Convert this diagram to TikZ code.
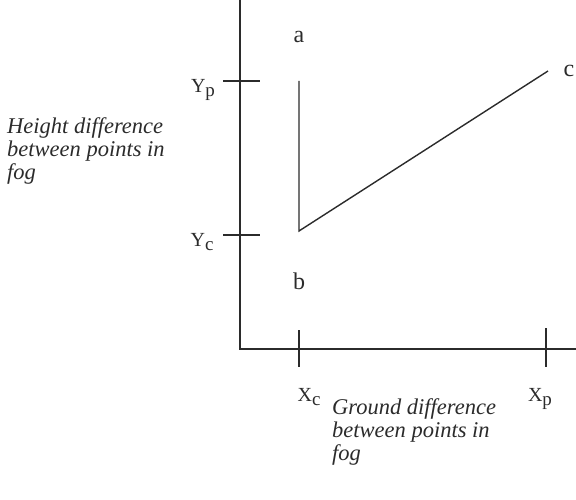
\documentclass[tikz,border=0pt]{standalone}
\usepackage{fontspec}
\setmainfont{Liberation Serif}
\usetikzlibrary{calc}
\definecolor{cInk}{HTML}{2B2B2B}
\tikzset{
    axis/.style  ={line width=1.6pt, cInk},
    tick/.style  ={line width=1.4pt, cInk},
    path/.style  ={line width=1.4pt, cInk},
    lbl/.style   ={font=\fontsize{24}{26}\selectfont, text=cInk, inner sep=0pt},
    axlbl/.style ={font=\fontsize{20}{22}\selectfont, text=cInk, inner sep=0pt,
                   anchor=base},
    desc/.style  ={font=\fontsize{22.5}{23}\selectfont\itshape, text=cInk,
                   align=left, inner sep=0pt, anchor=north west},
}
\newcommand{\subl}[1]{\raisebox{-3.5pt}{\fontsize{19}{19}\selectfont #1}}

\begin{document}
\begin{tikzpicture}[x=1pt, y=1pt]
\useasboundingbox (0,0) rectangle (576,500);

% ===================== Ejes =====================
\coordinate (O)    at (240,151);
\coordinate (ytop) at (240,500);
\coordinate (xend) at (576,151);
\draw[axis] (ytop) -- (O) -- (xend);

% ===================== Marcas =====================
\coordinate (yp1) at (223,419); \coordinate (yp2) at (260,419);
\coordinate (yc1) at (223,265); \coordinate (yc2) at (260,265);
\coordinate (xc1) at (299,133); \coordinate (xc2) at (299,170);
\coordinate (xp1) at (546,133); \coordinate (xp2) at (546,172);
\draw[tick] (yp1) -- (yp2);
\draw[tick] (yc1) -- (yc2);
\draw[tick] (xc1) -- (xc2);
\draw[tick] (xp1) -- (xp2);

\node[axlbl] (Yp) at (203,407) {Y\subl{p}};
\node[axlbl] (Yc) at (202,253) {Y\subl{c}};
\node[axlbl] (Xc) at (309,98)  {X\subl{c}};
\node[axlbl] (Xp) at (540,98)  {X\subl{p}};

% ===================== Trayectoria a-b-c =====================
\coordinate (pa) at (299,419);
\coordinate (pb) at (299,269);
\coordinate (pc) at (548,429);
\draw[path] (pa) -- (pb) -- (pc);

\node[lbl] (a) at (299,463) {a};
\node[lbl] (b) at (299,219) {b};
\node[lbl] (c) at (569,429) {c};

% ===================== Textos =====================
\node[desc] (hdiff) at (7,383)
     {Height difference\\between points in\\fog};
\node[desc] (gdiff) at (332,102)
     {Ground difference\\between points in\\fog};

\end{tikzpicture}
\end{document}
